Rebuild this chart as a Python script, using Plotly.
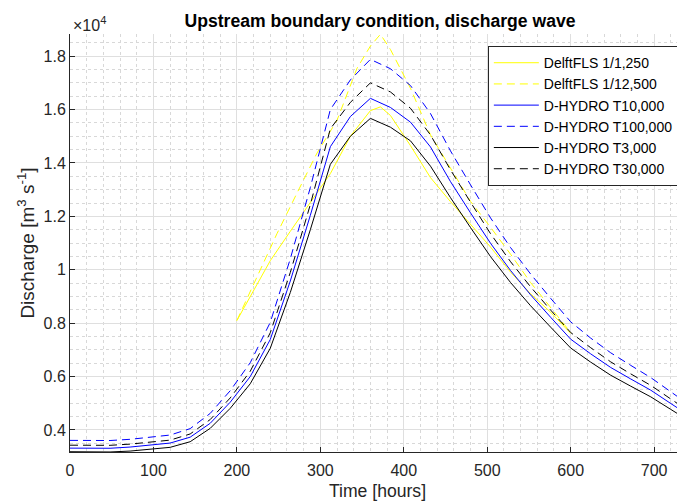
import plotly.graph_objects as go

# ---------------- data ----------------
t_hydro = [0, 24, 48, 72, 96, 120, 144, 168, 192, 216, 240, 264, 288, 312, 336, 360,
           384, 408, 432, 456, 480, 504, 528, 552, 576, 600, 624, 648, 672, 696, 720, 744]

q_t3000 = [3185, 3178, 3176, 3210, 3270, 3350, 3560, 4060, 4810, 5730, 7060, 9150,
           11500, 13950, 15000, 15670, 15340, 14830, 13880, 12700, 11580, 10490, 9520,
           8650, 7850, 7070, 6540, 6050, 5640, 5240, 4770, 4300]

q_t10000 = [3320, 3310, 3315, 3360, 3430, 3510, 3730, 4250, 5040, 6000, 7390, 9580,
            12040, 14610, 15740, 16420, 16080, 15530, 14600, 13300, 12130, 10990, 9970,
            9060, 8220, 7400, 6850, 6340, 5910, 5490, 4990, 4500]

q_t30000 = [3430, 3420, 3425, 3470, 3540, 3620, 3850, 4390, 5200, 6200, 7640, 9900,
            12440, 15280, 16270, 17000, 16660, 16050, 15050, 13740, 12530, 11350, 10300,
            9360, 8490, 7650, 7080, 6550, 6100, 5670, 5160, 4650]

q_t100000 = [3610, 3600, 3605, 3650, 3720, 3810, 4050, 4620, 5470, 6520, 8030, 10410,
             13080, 16000, 17110, 17880, 17530, 16900, 15850, 14450, 13180, 11940, 10830,
             9840, 8930, 8050, 7440, 6890, 6420, 5960, 5430, 4890]

t_fls_1250 = [200, 240, 264, 288, 312, 336, 360, 372, 384, 408, 432, 456, 480, 504,
              528, 552, 576, 600]
q_fls_1250 = [8100, 10340, 11440, 12520, 13600, 15000, 15960, 16100, 15780, 14650,
              13450, 12550, 11680, 10850, 9910, 9100, 8410, 7620]

t_fls_12500 = [200, 224, 248, 272, 296, 320, 344, 360, 372, 384, 408, 432, 456, 480,
               504, 528, 552, 576, 600]
q_fls_12500 = [8100, 9750, 11350, 12870, 14370, 15600, 17550, 18380, 18820, 18250,
               16800, 15050, 13830, 12560, 11590, 10580, 9520, 8590, 7650]

y_tickvals = [4000, 6000, 8000, 10000, 12000, 14000, 16000, 18000]
y_ticktext = ["0.4", "0.6", "0.8", "1", "1.2", "1.4", "1.6", "1.8"]
x_tickvals = [0, 100, 200, 300, 400, 500, 600, 700]

# ---------------- figure ----------------
DASH = "8px,5px"
series = [
    ("DelftFLS 1/1,250", t_fls_1250, q_fls_1250, "#FFFF00", "solid"),
    ("DelftFLS 1/12,500", t_fls_12500, q_fls_12500, "#FFFF00", DASH),
    ("D-HYDRO T10,000", t_hydro, q_t10000, "#0000FF", "solid"),
    ("D-HYDRO T100,000", t_hydro, q_t100000, "#0000FF", DASH),
    ("D-HYDRO T3,000", t_hydro, q_t3000, "#000000", "solid"),
    ("D-HYDRO T30,000", t_hydro, q_t30000, "#000000", DASH),
]

fig = go.Figure()
for name, x, y, color, dash in series:
    fig.add_trace(go.Scatter(x=x, y=y, mode="lines", name=name,
                             line=dict(color=color, width=1, dash=dash)))

font_family = "Liberation Sans, Arial, Helvetica, sans-serif"
axis_color = "#262626"

# The page body has an 8px margin, so the figure is sized to fill the rest of the window.
fig.update_layout(
    width=677, height=493,
    margin=dict(l=62, r=0, t=26, b=49),
    paper_bgcolor="white", plot_bgcolor="white",
    font=dict(family=font_family, size=16, color=axis_color),
    title=dict(text="<b>Upstream boundary condition, discharge wave</b>",
               x=0.5495, xanchor="center", y=0.974, yanchor="middle",
               font=dict(size=17.6, color="black", family=font_family)),
    showlegend=True,
    legend=dict(x=0.990, y=0.971, xanchor="right", yanchor="top",
                bgcolor="white", bordercolor=axis_color, borderwidth=1,
                font=dict(size=14, color="black", family=font_family),
                tracegroupgap=0, itemwidth=45),
    xaxis=dict(range=[0, 737], tickvals=x_tickvals, ticks="inside", ticklen=5,
               tickcolor=axis_color, showline=True, linecolor=axis_color, linewidth=1,
               showgrid=True, gridcolor="#dfdfdf", gridwidth=1, zeroline=False,
               automargin=False, ticklabelstandoff=4,
               tickfont=dict(size=16, color=axis_color),
               title=dict(text="Time [hours]", standoff=9,
                          font=dict(size=17.6, color=axis_color)),
               minor=dict(dtick=20, tick0=0, showgrid=True, gridcolor="#d8d8d8",
                          griddash="dot", gridwidth=1, ticks="")),
    yaxis=dict(range=[3175, 18830], tickvals=y_tickvals, ticktext=y_ticktext,
               ticks="inside", ticklen=5, tickcolor=axis_color,
               showline=True, linecolor=axis_color, linewidth=1,
               showgrid=True, gridcolor="#dfdfdf", gridwidth=1, zeroline=False,
               automargin=False,
               tickfont=dict(size=16, color=axis_color),
               title=dict(text="Discharge [m<sup>3</sup> s<sup>-1</sup>]", standoff=3,
                          font=dict(size=19, color=axis_color)),
               minor=dict(dtick=500, tick0=0, showgrid=True, gridcolor="#d8d8d8",
                          griddash="dot", gridwidth=1, ticks="")),
)

fig.add_annotation(text="×10<sup>4</sup>", xref="paper", yref="paper",
                   x=0.0, y=1.0, xanchor="left", yanchor="bottom", xshift=1, yshift=-2,
                   showarrow=False, font=dict(size=16, color=axis_color, family=font_family))

fig.write_html("out.html")
